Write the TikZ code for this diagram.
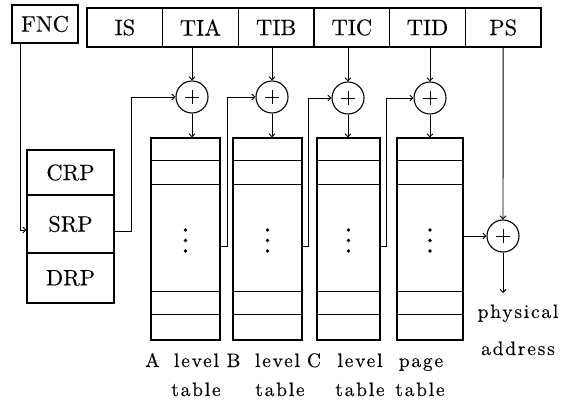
\documentclass[tikz,border=0pt]{standalone}
\usepackage{fontspec}
\usetikzlibrary{arrows.meta}
\newfontfamily\fieldfont[FakeBold=0.2]{lmroman10-regular.otf}
\newfontfamily\spacedfont[LetterSpace=9,FakeBold=0.2]{lmroman10-regular.otf}
\begin{document}
\begin{tikzpicture}[x=1pt,y=-1pt,line width=1.1pt,
  >={Straight Barb[length=3pt,width=6pt]},
  conn/.style={line width=0.9pt},
  field/.style={draw, rectangle, minimum width=75.67pt, minimum height=39pt,
    inner sep=0pt, font=\fontsize{22.5}{27}\fieldfont},
  adder/.style={circle, draw, minimum size=32pt, inner sep=0pt,
    path picture={
      \draw[line width=0.8pt] ([xshift=-7pt]path picture bounding box.center) -- ([xshift=7pt]path picture bounding box.center);
      \draw[line width=0.8pt] ([yshift=-7pt]path picture bounding box.center) -- ([yshift=7pt]path picture bounding box.center);}},
  tbl/.style={draw, rectangle, minimum width=#1, minimum height=202pt, inner sep=0pt},
  lbl/.style={anchor=base, inner sep=0pt, font=\fontsize{19.5}{22}\spacedfont}]
\useasboundingbox (0,0) rectangle (572,403);

% virtual address fields
\node[field, minimum width=66pt, minimum height=38pt] (FNC) at (45,24) {FNC};
\node[field] (IS)  at (124.83,27.5) {IS};
\node[field] (TIA) at (200.5,27.5)  {TIA};
\node[field] (TIB) at (276.17,27.5) {TIB};
\node[field] (TIC) at (351.83,27.5) {TIC};
\node[field] (TID) at (427.5,27.5)  {TID};
\node[field] (PS)  at (503.17,27.5) {PS};

% root pointer registers
\node[field, minimum width=87pt, minimum height=45pt] (CRP) at (70.5,172.5) {CRP};
\node[field, minimum width=87pt, minimum height=58pt] (SRP) at (70.5,224) {SRP};
\node[field, minimum width=87pt, minimum height=50pt] (DRP) at (70.5,278) {DRP};

% adders
\node[adder] (adA) at (192,97) {};
\node[adder] (adB) at (272,97) {};
\node[adder] (adC) at (348,98) {};
\node[adder] (adD) at (430,98) {};
\node[adder] (adE) at (503,236) {};

% translation tables
\node[tbl=69pt] (tA) at (185.5,239) {};
\node[tbl=69pt] (tB) at (267.5,239) {};
\node[tbl=63pt] (tC) at (348.5,239) {};
\node[tbl=66pt] (tD) at (430,239) {};
\foreach \t in {tA,tB,tC,tD}{
  \draw ([yshift=-23pt]\t.north west) -- ([yshift=-23pt]\t.north east);
  \draw ([yshift=-47pt]\t.north west) -- ([yshift=-47pt]\t.north east);
  \draw ([yshift=49pt]\t.south west) -- ([yshift=49pt]\t.south east);
  \draw ([yshift=26pt]\t.south west) -- ([yshift=26pt]\t.south east);
  \fill ([yshift=9pt]\t.center) circle (1.8pt);
  \fill ([yshift=-1.5pt]\t.center) circle (1.8pt);
  \fill ([yshift=-12pt]\t.center) circle (1.8pt);
}

% index fields into the adders
\draw[conn,->] (adA |- TIA.south) -- (adA.north);
\draw[conn,->] (adB |- TIB.south) -- (adB.north);
\draw[conn,->] (adC |- TIC.south) -- (adC.north);
\draw[conn,->] (adD |- TID.south) -- (adD.north);
\draw[conn,->] (PS.south) -- (adE.north);

% adders into the tables
\draw[conn,->] (adA.south) -- (adA |- tA.north);
\draw[conn,->] (adB.south) -- (adB |- tB.north);
\draw[conn,->] (adC.south) -- (adC |- tC.north);
\draw[conn,->] (adD.south) -- (adD |- tD.north);

% function code selects the root pointer
\draw[conn,->] ([xshift=9pt]FNC.south west) |- ([yshift=-6pt]SRP.west);

% table base addresses to the next adder
\coordinate (jA) at (131,97);
\coordinate (jB) at (227,97);
\coordinate (jC) at (308,98);
\coordinate (jD) at (386,98);
\draw[conn,->] ([yshift=-7pt]SRP.east) -| (jA) -- (adA.west);
\draw[conn,->] ([yshift=-7pt]tA.east) -| (jB) -- (adB.west);
\draw[conn,->] ([yshift=-7pt]tB.east) -| (jC) -- (adC.west);
\draw[conn,->] ([yshift=-7pt]tC.east) -| (jD) -- (adD.west);
\draw[conn,->] (adE -| tD.east) -- (adE.west);

% physical address output
\coordinate (out) at (503,293);
\draw[conn,->] (adE.south) -- (out);
\node[lbl] (phys) at (518,318) {physical};
\node[lbl] (addr) at (518,355) {address};

% table captions
\node[lbl] (cA) at (152.5,367) {A};
\node[lbl] (cB) at (233.5,367) {B};
\node[lbl] (cC) at (314,367) {C};
\node[lbl] (lvA) at (196.5,367) {level};
\node[lbl] (lvB) at (277.5,367) {level};
\node[lbl] (lvC) at (360,367) {level};
\node[lbl] (pg)  at (421,367) {page};
\node[lbl] (tbA) at (196,396) {table};
\node[lbl] (tbB) at (280,396) {table};
\node[lbl] (tbC) at (360,396) {table};
\node[lbl] (tbD) at (420,396) {table};
\end{tikzpicture}
\end{document}
